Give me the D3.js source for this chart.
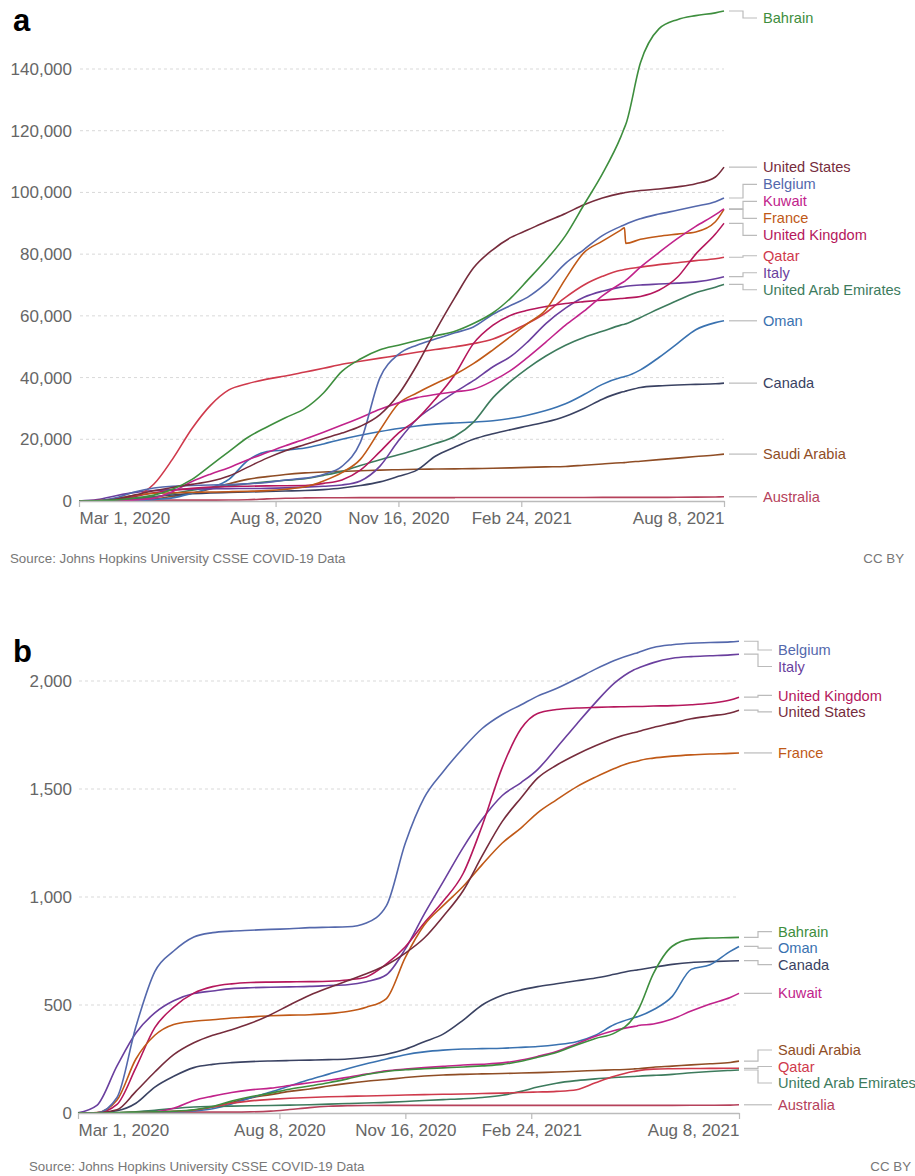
<!DOCTYPE html>
<html>
<head>
<meta charset="utf-8">
<script src="https://cdn.jsdelivr.net/npm/d3@7"></script>
<style>
body { margin: 0; background: #fff; }
svg { display: block; font-family: "Liberation Sans", Arial, sans-serif; }
</style>
</head>
<body>
<svg id="chart" width="915" height="1176"></svg>
<script>

// sample dates (1st and 16th of each month, plus the French revision)
var dates = ['2020-03-01', '2020-03-16', '2020-04-01', '2020-04-16', '2020-05-01', '2020-05-16', '2020-06-01', '2020-06-16',
	'2020-07-01', '2020-07-16', '2020-08-01', '2020-08-16', '2020-09-01', '2020-09-16', '2020-10-01', '2020-10-16',
	'2020-11-01', '2020-11-16', '2020-12-01', '2020-12-16', '2021-01-01', '2021-01-16', '2021-02-01', '2021-02-16',
	'2021-03-01', '2021-03-16', '2021-04-01', '2021-04-16', '2021-05-01', '2021-05-16', '2021-05-19', '2021-05-20',
	'2021-06-01', '2021-06-16', '2021-07-01', '2021-07-16', '2021-08-01', '2021-08-08'];

var countries = ['Bahrain', 'United States', 'Belgium', 'Kuwait', 'France', 'United Kingdom', 'Qatar',
	'Italy', 'United Arab Emirates', 'Oman', 'Canada', 'Saudi Arabia', 'Australia'];
var colors = ['#3e8e3e', '#762c3c', '#5468ac', '#c1238b', '#c05917', '#b5175c', '#cf3a4c',
	'#6a3f9e', '#3d7b5d', '#3a72b0', '#3a4262', '#8f4d25', '#b5415b'];

// confirmed cases per million
var bahrainCases = [0, 50, 350, 1000, 1900, 3800, 7000, 11500, 16000, 20500, 24000, 27000, 30000, 35000, 42000, 46000, 49000, 50500, 52000, 53500, 55000, 57500, 61000, 66000, 71500, 78000, 86000, 96000, 106000, 118000, 121000, 122000, 142000, 153000, 156000, 157300, 158200, 158800];
var usCases = [0, 15, 650, 2000, 3300, 4400, 5400, 6400, 8100, 10900, 13900, 16300, 18300, 20200, 22000, 24200, 28000, 34500, 44000, 55000, 66000, 75500, 81500, 85500, 87800, 90500, 93200, 96000, 98200, 99700, 99900, 100000, 100600, 101100, 101800, 102800, 105000, 108200];
var belgiumCases = [0, 60, 1100, 3000, 4200, 4800, 5000, 5200, 5300, 5600, 6000, 6800, 7400, 8600, 11200, 19000, 40000, 47500, 50500, 52500, 54500, 56400, 60500, 63500, 66000, 70500, 77000, 81500, 86000, 89000, 89500, 89700, 91500, 93000, 94200, 95500, 97000, 98200];
var kuwaitCases = [0, 20, 60, 350, 940, 3000, 6300, 8700, 10800, 13300, 15700, 17900, 20100, 22300, 24600, 27000, 29700, 31800, 33500, 34500, 35400, 36200, 39000, 42500, 46500, 51500, 57000, 61500, 66500, 70500, 71200, 71500, 75800, 80500, 85000, 89000, 92800, 94700];
var franceCases = [0, 100, 850, 1900, 2500, 2650, 2800, 2900, 3000, 3150, 3350, 3800, 4600, 6500, 9200, 13500, 23000, 31500, 35000, 38000, 41000, 44500, 49000, 53500, 57500, 62000, 72000, 80500, 84200, 87800, 88500, 83500, 84800, 85800, 86500, 87200, 90500, 94500];
var ukCases = [0, 30, 440, 1500, 2700, 3500, 4100, 4500, 4700, 4800, 4900, 4950, 5000, 5700, 6800, 10000, 16000, 22000, 26500, 33000, 41000, 51000, 57000, 60300, 61800, 63000, 64000, 64600, 65100, 65600, 65700, 65750, 66300, 68300, 72500, 80000, 86500, 90000];
var qatarCases = [0, 150, 270, 1500, 5500, 13500, 23500, 31000, 36000, 38000, 39500, 40500, 41800, 43000, 44300, 45300, 46300, 47200, 48200, 49100, 50000, 51000, 52500, 55000, 57500, 61000, 66000, 70000, 72800, 74800, 75000, 75100, 75800, 76600, 77200, 77900, 78500, 79000];
var italyCases = [20, 450, 1800, 2800, 3400, 3700, 3860, 3930, 4000, 4050, 4100, 4250, 4500, 4800, 5200, 6500, 11300, 19500, 26500, 31000, 35300, 39000, 43500, 47000, 51500, 57500, 62500, 66000, 68000, 69300, 69500, 69600, 70000, 70300, 70600, 71000, 72000, 72700];
var uaeCases = [0, 10, 67, 600, 1260, 2400, 3500, 4300, 4950, 5600, 6200, 6700, 7200, 8300, 9600, 11500, 13400, 15000, 16700, 18600, 21000, 25500, 33500, 39000, 43000, 47000, 50500, 53000, 55000, 57000, 57300, 57400, 59500, 62300, 65000, 67500, 69300, 70200];
var omanCases = [0, 5, 40, 150, 460, 1000, 2500, 4200, 7000, 13000, 16000, 16500, 17200, 18500, 20000, 21300, 22500, 23500, 24300, 24900, 25300, 25600, 26000, 26800, 27800, 29300, 31500, 34500, 37800, 40000, 40300, 40400, 42500, 46500, 51000, 55500, 57800, 58400];
var canadaCases = [0, 10, 250, 800, 1400, 1950, 2400, 2600, 2750, 2900, 3070, 3230, 3400, 3700, 4200, 5000, 6200, 8000, 10000, 14500, 17500, 20000, 21800, 23200, 24300, 25600, 27500, 30000, 33000, 35200, 35500, 35600, 36800, 37300, 37600, 37800, 38000, 38200];
var saudiCases = [0, 3, 46, 200, 650, 1500, 2500, 3900, 5600, 7000, 7900, 8600, 9100, 9400, 9600, 9800, 10000, 10150, 10300, 10350, 10400, 10500, 10600, 10750, 10900, 11050, 11200, 11600, 12000, 12400, 12450, 12500, 12900, 13400, 13900, 14400, 14900, 15200];
var australiaCases = [0, 12, 190, 250, 265, 275, 280, 290, 310, 420, 680, 900, 1000, 1050, 1070, 1080, 1085, 1090, 1095, 1100, 1110, 1120, 1125, 1130, 1135, 1140, 1150, 1155, 1160, 1165, 1165, 1165, 1170, 1180, 1200, 1240, 1310, 1370];

// confirmed deaths per million
var bahrainDeaths = [0, 0, 2, 4, 5, 8, 15, 30, 55, 75, 92, 110, 125, 140, 158, 178, 192, 200, 205, 209, 213, 218, 225, 240, 258, 280, 315, 345, 370, 440, 468, 478, 645, 772, 805, 810, 812, 813];
var usDeaths = [0, 0.3, 15, 100, 190, 270, 325, 360, 385, 415, 455, 500, 545, 580, 612, 645, 685, 740, 810, 910, 1030, 1190, 1350, 1460, 1550, 1610, 1660, 1700, 1735, 1760, 1764, 1766, 1785, 1805, 1825, 1838, 1852, 1865];
var belgiumDeaths = [0, 1, 72, 400, 655, 750, 815, 835, 842, 846, 850, 853, 858, 860, 862, 880, 960, 1250, 1460, 1580, 1690, 1780, 1845, 1890, 1930, 1965, 2010, 2055, 2095, 2125, 2130, 2132, 2155, 2168, 2175, 2178, 2181, 2184];
var kuwaitDeaths = [0, 0, 0, 1, 5, 22, 58, 78, 95, 107, 115, 127, 140, 152, 165, 180, 195, 203, 210, 216, 222, 226, 232, 245, 262, 285, 320, 355, 382, 400, 403, 405, 412, 435, 472, 505, 535, 554];
var franceDeaths = [0, 2, 60, 250, 360, 410, 425, 432, 440, 445, 450, 453, 455, 460, 470, 490, 530, 720, 870, 960, 1050, 1150, 1250, 1320, 1390, 1450, 1510, 1555, 1595, 1625, 1628, 1630, 1643, 1652, 1658, 1662, 1665, 1667];
var ukDeaths = [0, 1, 40, 210, 395, 490, 555, 585, 598, 604, 606, 607, 608, 610, 616, 630, 690, 770, 880, 980, 1110, 1330, 1600, 1780, 1850, 1868, 1875, 1878, 1880, 1882, 1882, 1882, 1884, 1886, 1890, 1897, 1912, 1925];
var qatarDeaths = [0, 0, 1, 2.5, 5, 6.5, 13, 28, 45, 56, 63, 68, 72, 75, 77, 79, 81, 83, 85, 86.5, 88, 90, 92, 95, 97, 100, 108, 140, 170, 192, 195, 196, 203, 205, 206, 206.5, 207, 207];
var italyDeaths = [0.5, 35, 218, 370, 464, 520, 553, 565, 576, 580, 582, 584, 586, 590, 594, 608, 640, 760, 921, 1070, 1230, 1360, 1470, 1530, 1590, 1690, 1800, 1900, 1990, 2050, 2058, 2060, 2085, 2105, 2113, 2117, 2121, 2124];
var uaeDeaths = [0, 0, 1, 6, 12, 21, 28, 30.5, 32, 33.5, 35, 36.5, 38, 41, 44, 46.5, 49, 53, 58, 62, 66, 72, 82, 100, 120, 138, 150, 158, 164, 169, 170, 170.5, 174, 179, 186, 192, 197, 199];
var omanDeaths = [0, 0, 0.2, 0.8, 2, 4, 10, 20, 42, 70, 97, 125, 155, 180, 205, 228, 250, 270, 283, 291, 296, 298, 300, 304, 308, 316, 330, 360, 410, 440, 445, 447, 478, 540, 665, 686, 748, 771];
var canadaDeaths = [0, 0.2, 10, 45, 120, 170, 210, 225, 233, 238, 241, 243, 245, 247, 250, 258, 272, 295, 330, 365, 430, 500, 545, 570, 585, 598, 612, 625, 642, 660, 662, 663, 675, 688, 697, 701, 704, 705];
var saudiDeaths = [0, 0, 0.3, 2, 5, 8, 13, 28, 49, 70, 85, 100, 111, 125, 137, 147, 155, 164, 171, 176, 179, 181, 183, 185, 187, 190, 193, 197, 200, 204, 205, 205, 212, 217, 223, 228, 234, 240];
var australiaDeaths = [0, 0.2, 0.8, 2.5, 3.6, 3.9, 4, 4, 4.1, 5, 8.5, 16, 25, 31, 34, 35, 35.3, 35.4, 35.4, 35.4, 35.4, 35.4, 35.4, 35.4, 35.4, 35.4, 35.4, 35.4, 35.4, 35.4, 35.4, 35.4, 35.4, 35.5, 35.6, 35.8, 36.5, 38];

var casesSeries = [bahrainCases, usCases, belgiumCases, kuwaitCases, franceCases, ukCases, qatarCases,
	italyCases, uaeCases, omanCases, canadaCases, saudiCases, australiaCases];
var deathsSeries = [bahrainDeaths, usDeaths, belgiumDeaths, kuwaitDeaths, franceDeaths, ukDeaths, qatarDeaths,
	italyDeaths, uaeDeaths, omanDeaths, canadaDeaths, saudiDeaths, australiaDeaths];

var casesTicks = [0, 20000, 40000, 60000, 80000, 100000, 120000, 140000];
var deathsTicks = [0, 500, 1000, 1500, 2000];
var xTicks = ['2020-03-01', '2020-08-08', '2020-11-16', '2021-02-24', '2021-08-08'];
var xTickLabels = ['Mar 1, 2020', 'Aug 8, 2020', 'Nov 16, 2020', 'Feb 24, 2021', 'Aug 8, 2021'];

var parseDate = d3.timeParse('%Y-%m-%d');
var svg = d3.select('#chart');
svg.append('rect').attr('width', 915).attr('height', 1176).style('fill', '#fff');

function layoutLabels(items, gap, minY, maxY) {
	items.sort(function(a, b) { return a.target - b.target; });
	var groups = items.map(function(d) { return { items: [d], top: d.target }; });
	var merged = true;
	while (merged) {
		merged = false;
		groups.forEach(function(gr) {
			var mean = d3.mean(gr.items, function(d, k) { return d.target - k * gap; });
			gr.top = Math.max(minY, Math.min(maxY - (gr.items.length - 1) * gap, mean));
		});
		for (var i = 0; i < groups.length - 1; i++) {
			var a = groups[i], b = groups[i + 1];
			if (a.top + a.items.length * gap > b.top + 0.01) {
				a.items = a.items.concat(b.items);
				groups.splice(i + 1, 1);
				merged = true;
				break;
			}
		}
	}
	groups.forEach(function(gr) {
		gr.items.forEach(function(d, k) { d.labelY = gr.top + k * gap; });
	});
}

function panel(cfg) {

	var g = svg.append('g');

	var x = d3.scaleTime()
		.domain([parseDate(dates[0]), parseDate(dates[dates.length - 1])])
		.range([cfg.left, cfg.right]);

	var y = d3.scaleLinear().domain([0, cfg.yTicks[cfg.yTicks.length - 1]]).range([cfg.bottom, cfg.top]);

	// panel letter
	g.append('text').attr('x', 13).attr('y', cfg.letterY).text(cfg.letter)
		.style('font-size', '31px').style('font-weight', 'bold').style('fill', '#000');

	// dashed grid
	g.selectAll('line.grid').data(cfg.yTicks.slice(1)).enter().append('line')
		.attr('class', 'grid')
		.attr('x1', cfg.left + 1).attr('x2', cfg.right)
		.attr('y1', function(d) { return y(d); }).attr('y2', function(d) { return y(d); })
		.style('stroke', '#d9d9d9').style('stroke-dasharray', '3,3');

	var yAxis = g.append('g').attr('transform', 'translate({0},0)'.replace('{0}', cfg.left))
		.call(d3.axisLeft(y).tickValues(cfg.yTicks).tickFormat(d3.format(',')).tickSize(0).tickPadding(cfg.left - 72));
	yAxis.select('.domain').remove();
	yAxis.selectAll('text').style('font-size', '17px').style('fill', '#666').style('font-family', '"Liberation Sans", Arial, sans-serif');

	// lines
	var line = d3.line()
		.x(function(d) { return x(d.date); })
		.y(function(d) { return y(d.value); })
		.curve(d3.curveMonotoneX);

	var series = countries.map(function(name, i) {
		return {
			name: name,
			color: colors[i],
			values: cfg.series[i].map(function(v, k) { return { date: parseDate(dates[k]), value: v }; })
		};
	});

	g.selectAll('path.country').data(series.slice().reverse()).enter().append('path')
		.attr('class', 'country')
		.attr('d', function(d) { return line(d.values); })
		.style('fill', 'none')
		.style('stroke', function(d) { return d.color; })
		.style('stroke-width', 1.6)
		.style('stroke-linejoin', 'round');

	// x axis
	var xAxis = g.append('g').attr('transform', 'translate(0,' + cfg.bottom + ')')
		.call(d3.axisBottom(x)
			.tickValues(xTicks.map(parseDate))
			.tickFormat(function(d, i) { return xTickLabels[i]; })
			.tickSize(6).tickSizeOuter(0).tickPadding(5));
	xAxis.select('.domain').style('stroke', '#bbb').style('stroke-width', 1.5);
	xAxis.selectAll('.tick line').style('stroke', '#bbb').style('stroke-width', 1.2);
	xAxis.selectAll('text').style('font-size', '17px').style('fill', '#666').style('font-family', '"Liberation Sans", Arial, sans-serif')
		.attr('text-anchor', function(d, i) { return i === 0 ? 'start' : i === xTicks.length - 1 ? 'end' : 'middle'; });

	// labels at line ends
	var items = series.map(function(d) {
		var last = d.values[d.values.length - 1];
		return { name: d.name, color: d.color, target: y(last.value) };
	});
	layoutLabels(items, cfg.gap, cfg.labelMin, cfg.bottom);

	var lx = cfg.right;
	g.selectAll('path.leader').data(items).enter().append('path')
		.attr('class', 'leader')
		.attr('d', function(d) {
			return 'M' + (lx + 5) + ',' + d.target + 'H' + (lx + 19) + 'V' + d.labelY + 'H' + (lx + 33);
		})
		.style('fill', 'none').style('stroke', '#bbb').style('stroke-width', 1.2);

	g.selectAll('text.label').data(items).enter().append('text')
		.attr('class', 'label')
		.attr('x', lx + 39).attr('y', function(d) { return d.labelY; }).attr('dy', '0.35em')
		.text(function(d) { return d.name; })
		.style('font-size', '14.6px')
		.style('fill', function(d) { return d.color; });

	// footer
	g.append('text').attr('x', cfg.sourceX).attr('y', cfg.sourceY)
		.text('Source: Johns Hopkins University CSSE COVID-19 Data')
		.style('font-size', '13.3px').style('fill', '#777');
	g.append('text').attr('x', cfg.ccX).attr('y', cfg.sourceY).attr('text-anchor', 'end')
		.text('CC BY')
		.style('font-size', '13.3px').style('fill', '#777');
}

panel({
	letter: 'a', letterY: 31,
	series: casesSeries, yTicks: casesTicks,
	left: 79, right: 724, top: 69, bottom: 501,
	gap: 17, labelMin: 18,
	sourceX: 10, sourceY: 563, ccX: 904
});

panel({
	letter: 'b', letterY: 662,
	series: deathsSeries, yTicks: deathsTicks,
	left: 78, right: 739, top: 681, bottom: 1113,
	gap: 16.5, labelMin: 650,
	sourceX: 29, sourceY: 1171, ccX: 911
});

</script>
</body>
</html>
